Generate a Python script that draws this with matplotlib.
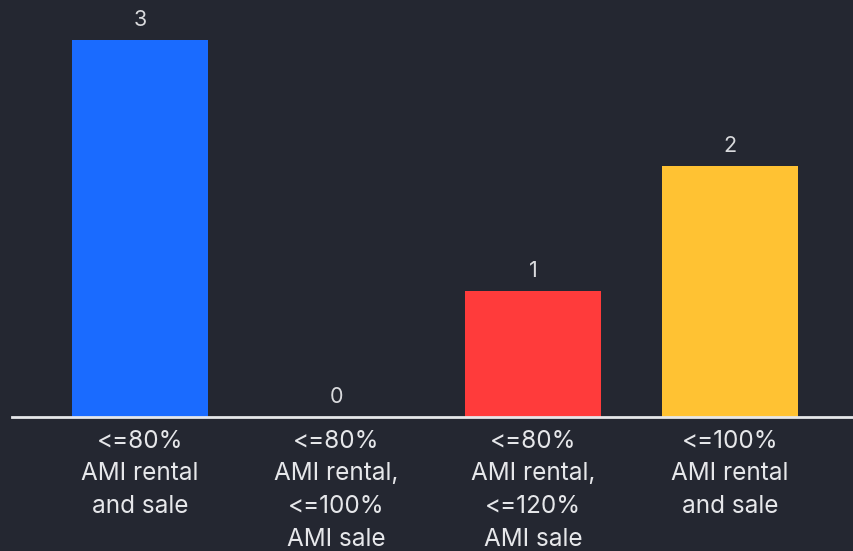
import matplotlib
matplotlib.use("Agg")
import matplotlib.pyplot as plt

categories = [
    "<=80%\nAMI rental\nand sale",
    "<=80%\nAMI rental,\n<=100%\nAMI sale",
    "<=80%\nAMI rental,\n<=120%\nAMI sale",
    "<=100%\nAMI rental\nand sale",
]
values = [3, 0, 1, 2]
colors = ["#1a6bff", "#1a6bff", "#ff3b3b", "#ffc233"]

bg = "#242731"
plt.rcParams["font.family"] = ["Inter", "DejaVu Sans"]

fig = plt.figure(figsize=(8.54, 5.51), dpi=100, facecolor=bg)
ax = fig.add_axes([12 / 854, 134 / 551, 842 / 854, 417 / 551])
ax.set_facecolor(bg)

x = list(range(len(values)))
bars = ax.bar(x, values, width=0.69, color=colors, zorder=2)

for xi, v in zip(x, values):
    ax.text(xi, v + 0.08, str(v), ha="center", va="bottom",
            color="#d9dadd", fontsize=15.5)

ax.set_xlim(-0.65, 3.63)
ax.set_ylim(0, 3.32)

ax.set_xticks(x)
ax.set_xticklabels(categories, color="#e6e7ea", fontsize=17.5, linespacing=1.55)
ax.tick_params(axis="x", length=0, pad=9)
ax.set_yticks([])

for s in ["top", "right", "left"]:
    ax.spines[s].set_visible(False)
ax.spines["bottom"].set_color("#e6e7ea")
ax.spines["bottom"].set_linewidth(2)

fig.savefig("out.png", dpi=100, facecolor=bg)
